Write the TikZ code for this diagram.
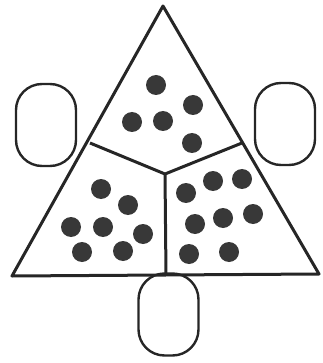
\documentclass[tikz,border=0pt]{standalone}
\begin{document}
\begin{tikzpicture}[x=1pt,y=-1pt,
  edge/.style={line width=3pt,line join=round,black!85},
  pod/.style={draw=black!85,line width=2.4pt,rounded corners=26pt,minimum width=60pt,minimum height=82pt,inner sep=0pt},
  dot/.style={circle,fill=black!78,minimum size=20pt,inner sep=0pt}]
\useasboundingbox (0,0) rectangle (322,363);
% triangle corners
\coordinate (A) at (163,6);
\coordinate (L) at (12,276);
\coordinate (R) at (319,274);
\coordinate (P) at (90,143);
\coordinate (Q) at (242,143);
\coordinate (C) at (165,174);
\coordinate (B) at (166,275);
% side pods
\node[pod] (left) at (46,125) {};
\node[pod] (right) at (285,124) {};
\node[pod] (bottom) at (168.5,314.5) {};
\draw[edge] (A) -- (R) -- (L) -- cycle;
\draw[edge] (P) -- (C) -- (Q);
\draw[edge] (C) -- (B);
% top region
\foreach \n/\x/\y in {t1/156/85,t2/193/105,t3/132/122,t4/163/121,t5/192/143}
  \node[dot] (\n) at (\x,\y) {};
% left region
\foreach \n/\x/\y in {l1/101/189,l2/128/205,l3/71/227,l4/103/227,l5/143/234,l6/82/252,l7/123/251}
  \node[dot] (\n) at (\x,\y) {};
% right region
\foreach \n/\x/\y in {r1/186/193,r2/213/181,r3/242/179,r4/195/224,r5/223/218,r6/253/214,r7/189/254,r8/229/252}
  \node[dot] (\n) at (\x,\y) {};
\end{tikzpicture}
\end{document}
